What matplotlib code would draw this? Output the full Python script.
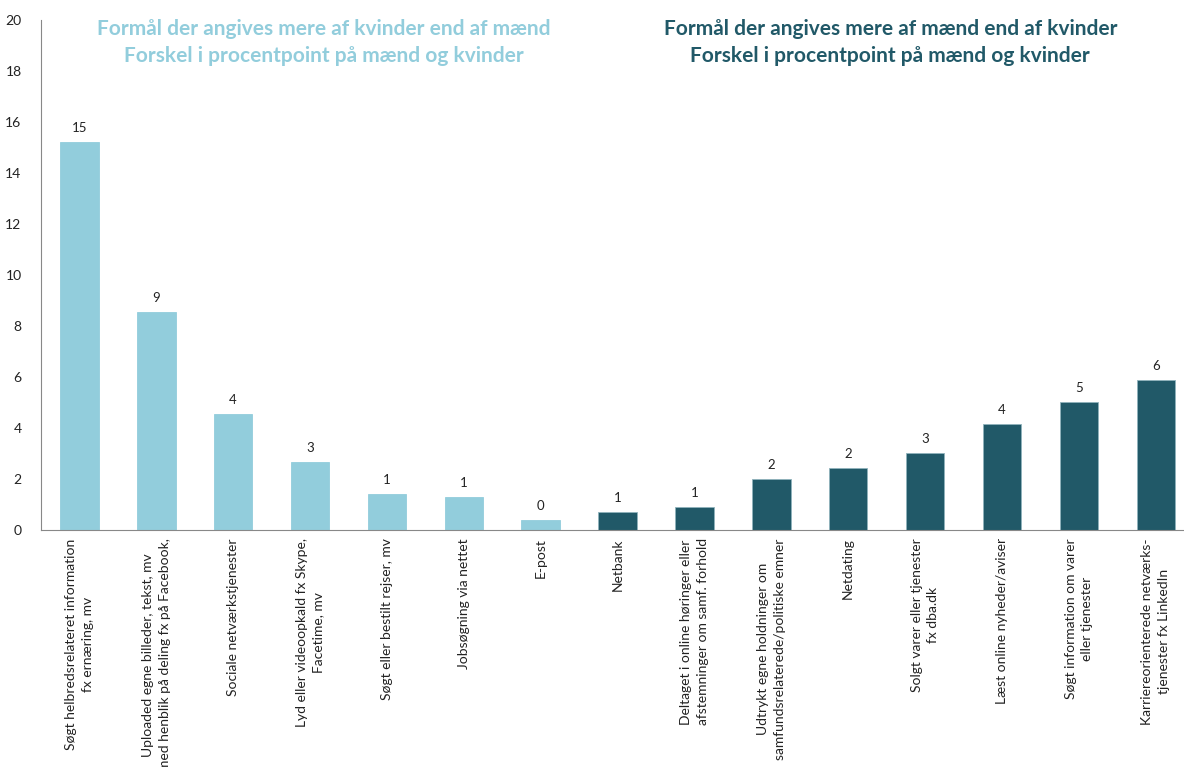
import numpy as np
import matplotlib
matplotlib.use("Agg")
from matplotlib import pyplot as plt

# Forskel i procentpoint, formål på internettet
categories = [
    "Søgt helbredsrelateret information\nfx ernæring, mv",
    "Uploaded egne billeder, tekst, mv\nmed henblik på deling fx på Facebook,",
    "Sociale netværkstjenester",
    "Lyd eller videoopkald fx Skype,\nFacetime, mv",
    "Søgt eller bestilt rejser, mv",
    "Jobsøgning via nettet",
    "E-post",
    "Netbank",
    "Deltaget i online høringer eller\nafstemninger om samf. forhold",
    "Udtrykt egne holdninger om\nsamfundsrelaterede/politiske emner",
    "Netdating",
    "Solgt varer eller tjenester\nfx dba.dk",
    "Læst online nyheder/aviser",
    "Søgt information om varer\neller tjenester",
    "Karriereorienterede netværks-\ntjenester fx LinkedIn",
]
values = [15.2, 8.55, 4.55, 2.65, 1.4, 1.3, 0.38, 0.7, 0.9, 2.0, 2.42, 3.02, 4.15, 5.02, 5.88]
value_labels = ["15", "9", "4", "3", "1", "1", "0", "1", "1", "2", "2", "3", "4", "5", "6"]
group = ["kvinder"] * 7 + ["mænd"] * 8

light = "#92CDDC"
dark = "#215968"
colors = [light if g == "kvinder" else dark for g in group]

plt.rcParams["font.family"] = ["Lato", "DejaVu Sans"]

fig = plt.figure(figsize=(11.84, 7.67), dpi=100)
ax = fig.add_axes([0.0346, 0.309, 0.974, 0.665])

x = np.arange(len(categories))
bars = ax.bar(x, values, width=0.5, color=colors,
              edgecolor=[c if c == light else "#8fb3bc" for c in colors],
              linewidth=0.6, zorder=2)

for xi, v, lab in zip(x, values, value_labels):
    ax.annotate(lab, (xi, v), xytext=(0, 6), textcoords="offset points",
                ha="center", va="bottom", fontsize=9.5, color="#222222")

ax.set_xlim(-0.5, len(categories) - 0.5)
ax.set_ylim(0, 20)
ax.set_yticks(np.arange(0, 21, 2))
ax.set_xticks(x)
ax.set_xticklabels(categories, rotation=90, ha="center", va="top",
                   multialignment="center", fontsize=10, color="#222222",
                   linespacing=1.45)
ax.tick_params(axis="x", length=0, pad=6)
ax.tick_params(axis="y", length=0, pad=14, labelsize=10, labelcolor="#222222")

for side in ["top", "right"]:
    ax.spines[side].set_visible(False)
ax.spines["left"].set_color("#888888")
ax.spines["bottom"].set_color("#888888")

fig.text(0.2736, 0.975, "Formål der angives mere af kvinder end af mænd\nForskel i procentpoint på mænd og kvinder",
         ha="center", va="top", fontsize=15, fontweight="bold", color=light, linespacing=1.45)
fig.text(0.752, 0.975, "Formål der angives mere af mænd end af kvinder\nForskel i procentpoint på mænd og kvinder",
         ha="center", va="top", fontsize=15, fontweight="bold", color=dark, linespacing=1.45)

plt.savefig("out.png", dpi=100)
